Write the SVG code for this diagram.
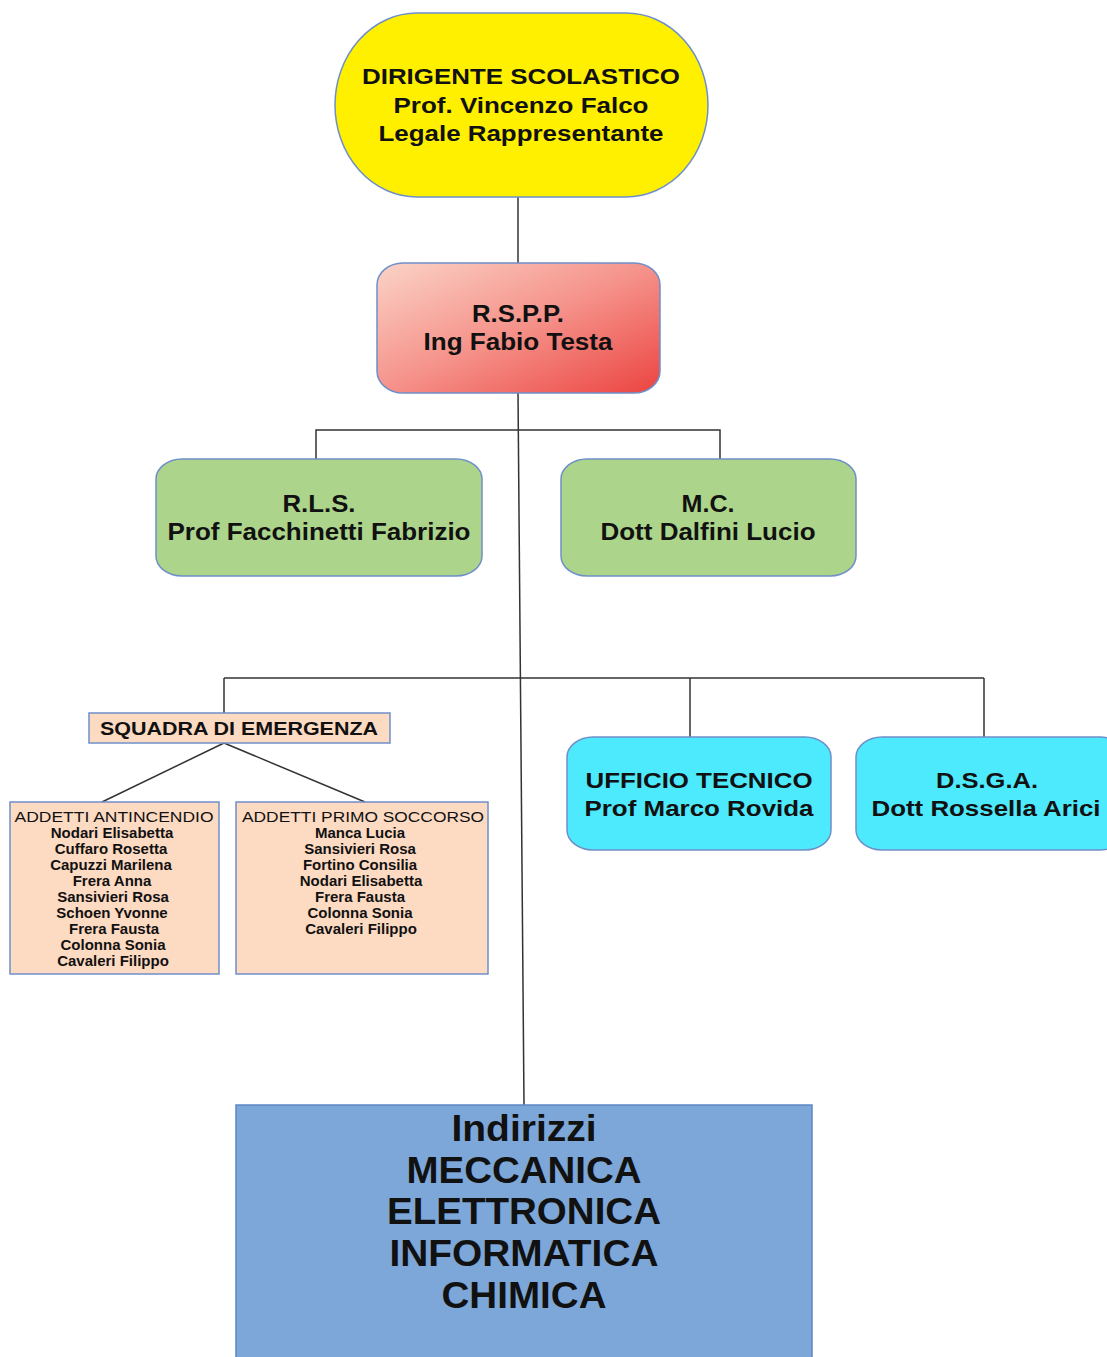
<svg xmlns="http://www.w3.org/2000/svg" width="1107" height="1357" viewBox="0 0 1107 1357">
<defs>
<linearGradient id="redGrad" x1="0" y1="0" x2="1" y2="1">
<stop offset="0" stop-color="#fbd3c7"/>
<stop offset="0.5" stop-color="#f5928a"/>
<stop offset="1" stop-color="#ec4441"/>
</linearGradient>
<style>
.box{stroke:#6f8fc9;stroke-width:1.5}
.conn{fill:none;stroke:#333;stroke-width:1.5}
text{font-family:"Liberation Sans",Arial,sans-serif;fill:#111;text-anchor:middle}
.b{font-weight:bold}
.t22{font-size:22px}
.t23{font-size:23px}
.t18{font-size:18px}
.h14{font-size:14px}
.n15{font-size:15px;font-weight:bold}
.t36{font-size:36px;font-weight:bold}
</style>
</defs>
<rect width="1107" height="1357" fill="#ffffff"/>

<g id="connectors">
<line class="conn" x1="518" y1="197" x2="518" y2="263"/>
<line class="conn" x1="518" y1="393" x2="524" y2="1105"/>
<polyline class="conn" points="316,459 316,430 720,430 720,459"/>
<line class="conn" x1="224" y1="678" x2="984" y2="678"/>
<line class="conn" x1="224" y1="678" x2="224" y2="713"/>
<line class="conn" x1="690" y1="678" x2="690" y2="737"/>
<line class="conn" x1="984" y1="678" x2="984" y2="737"/>
<line class="conn" x1="224" y1="743" x2="102" y2="802"/>
<line class="conn" x1="224" y1="743" x2="365" y2="802"/>
</g>

<g id="dirigente">
<rect class="box" x="335" y="13" width="373" height="184" rx="82" ry="92" fill="#fff000"/>
<text class="b t22" x="521" y="84" textLength="318" lengthAdjust="spacingAndGlyphs">DIRIGENTE SCOLASTICO</text>
<text class="b t22" x="521" y="113" textLength="255" lengthAdjust="spacingAndGlyphs">Prof. Vincenzo Falco</text>
<text class="b t22" x="521" y="141" textLength="285" lengthAdjust="spacingAndGlyphs">Legale Rappresentante</text>
</g>

<g id="rspp">
<rect class="box" x="377" y="263" width="283" height="130" rx="26" ry="22" fill="url(#redGrad)"/>
<text class="b t23" x="518" y="322" textLength="92" lengthAdjust="spacingAndGlyphs">R.S.P.P.</text>
<text class="b t23" x="518" y="350" textLength="189" lengthAdjust="spacingAndGlyphs">Ing Fabio Testa</text>
</g>

<g id="rls">
<rect class="box" x="156" y="459" width="326" height="117" rx="26" ry="20" fill="#acd48b"/>
<text class="b t23" x="319" y="512" textLength="73" lengthAdjust="spacingAndGlyphs">R.L.S.</text>
<text class="b t23" x="319" y="540" textLength="303" lengthAdjust="spacingAndGlyphs">Prof Facchinetti Fabrizio</text>
</g>

<g id="mc">
<rect class="box" x="561" y="459" width="295" height="117" rx="26" ry="20" fill="#acd48b"/>
<text class="b t23" x="708" y="512" textLength="53" lengthAdjust="spacingAndGlyphs">M.C.</text>
<text class="b t23" x="708" y="540" textLength="215" lengthAdjust="spacingAndGlyphs">Dott Dalfini Lucio</text>
</g>

<g id="squadra">
<rect class="box" x="89" y="713" width="301" height="30" fill="#fddac2"/>
<text class="b t18" x="239" y="735" textLength="278" lengthAdjust="spacingAndGlyphs">SQUADRA DI EMERGENZA</text>
</g>

<g id="antincendio">
<rect class="box" x="10" y="802" width="209" height="172" fill="#fddac2"/>
<text class="h14" x="114" y="822" textLength="199" lengthAdjust="spacingAndGlyphs">ADDETTI ANTINCENDIO</text>
<text class="n15" x="112" y="838">Nodari Elisabetta</text>
<text class="n15" x="111" y="854">Cuffaro Rosetta</text>
<text class="n15" x="111" y="870">Capuzzi Marilena</text>
<text class="n15" x="112" y="886">Frera Anna</text>
<text class="n15" x="113" y="902">Sansivieri Rosa</text>
<text class="n15" x="112" y="918">Schoen Yvonne</text>
<text class="n15" x="114" y="934">Frera Fausta</text>
<text class="n15" x="113" y="950">Colonna Sonia</text>
<text class="n15" x="113" y="966">Cavaleri Filippo</text>
</g>

<g id="primosoccorso">
<rect class="box" x="236" y="802" width="252" height="172" fill="#fddac2"/>
<text class="h14" x="363" y="822" textLength="242" lengthAdjust="spacingAndGlyphs">ADDETTI PRIMO SOCCORSO</text>
<text class="n15" x="360" y="838">Manca Lucia</text>
<text class="n15" x="360" y="854">Sansivieri Rosa</text>
<text class="n15" x="360" y="870">Fortino Consilia</text>
<text class="n15" x="361" y="886">Nodari Elisabetta</text>
<text class="n15" x="360" y="902">Frera Fausta</text>
<text class="n15" x="360" y="918">Colonna Sonia</text>
<text class="n15" x="361" y="934">Cavaleri Filippo</text>
</g>

<g id="ufficiotecnico">
<rect class="box" x="567" y="737" width="264" height="113" rx="26" ry="20" fill="#4de9fc"/>
<text class="b t22" x="699" y="788" textLength="227" lengthAdjust="spacingAndGlyphs">UFFICIO TECNICO</text>
<text class="b t22" x="699" y="816" textLength="229" lengthAdjust="spacingAndGlyphs">Prof Marco Rovida</text>
</g>

<g id="dsga">
<rect class="box" x="856" y="737" width="270" height="113" rx="26" ry="20" fill="#4de9fc"/>
<text class="b t22" x="987" y="788" textLength="102" lengthAdjust="spacingAndGlyphs">D.S.G.A.</text>
<text class="b t22" x="986" y="816" textLength="229" lengthAdjust="spacingAndGlyphs">Dott Rossella Arici</text>
</g>

<g id="indirizzi">
<rect x="236" y="1105" width="576" height="270" fill="#7ca7d8" stroke="#5d88c2" stroke-width="1.5"/>
<text class="t36" x="524" y="1141" textLength="145" lengthAdjust="spacingAndGlyphs">Indirizzi</text>
<text class="t36" x="524" y="1183" textLength="235" lengthAdjust="spacingAndGlyphs">MECCANICA</text>
<text class="t36" x="524" y="1224" textLength="274" lengthAdjust="spacingAndGlyphs">ELETTRONICA</text>
<text class="t36" x="524" y="1266" textLength="269" lengthAdjust="spacingAndGlyphs">INFORMATICA</text>
<text class="t36" x="524" y="1308" textLength="165" lengthAdjust="spacingAndGlyphs">CHIMICA</text>
</g>
</svg>
